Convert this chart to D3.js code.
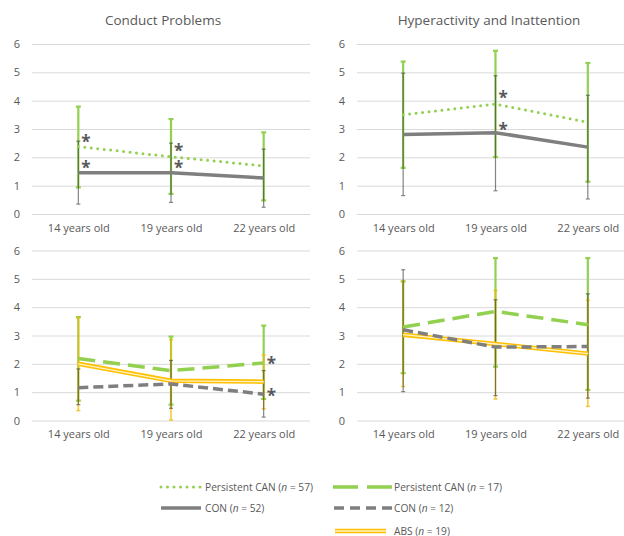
<!DOCTYPE html>
<html>
<head>
<meta charset="utf-8">
<script src="https://cdn.jsdelivr.net/npm/d3@7"></script>
<style>
  body { margin: 0; background: #fff; }
  text { font-family: "Open Sans", sans-serif; fill: #595959; }
</style>
</head>
<body>
<svg id="chart" width="624" height="536"></svg>
<script>
// categories and ticks
const ages = ["14 years old", "19 years old", "22 years old"];
const yTicks = [0, 1, 2, 3, 4, 5, 6];

// Conduct problems, persistent CAN (n=57) vs CON (n=52)
const cpCan57 = [2.38, 2.02, 1.70];
const cpCan57Hi = [3.79, 3.35, 2.88];
const cpCan57Lo = [0.94, 0.71, 0.48];
const cpCon52 = [1.46, 1.46, 1.27];
const cpCon52Hi = [2.57, 2.50, 2.29];
const cpCon52Lo = [0.35, 0.41, 0.24];

// Hyperactivity, persistent CAN (n=57) vs CON (n=52)
const haCan57 = [3.50, 3.88, 3.24];
const haCan57Hi = [5.38, 5.76, 5.33];
const haCan57Lo = [1.63, 2.01, 1.14];
const haCon52 = [2.81, 2.87, 2.36];
const haCon52Hi = [4.97, 4.88, 4.19];
const haCon52Lo = [0.65, 0.82, 0.53];

// Conduct problems, CAN (n=17), CON (n=12), ABS (n=19)
const cpCan17 = [2.19, 1.76, 2.03];
const cpCan17Hi = [3.65, 2.96, 3.35];
const cpCan17Lo = [0.70, 0.56, 0.76];
const cpCon12 = [1.16, 1.29, 0.93];
const cpCon12Hi = [1.82, 2.12, 1.76];
const cpCon12Lo = [0.56, 0.43, 0.12];
const cpAbs19 = [2.00, 1.40, 1.37];
const cpAbs19Hi = [3.63, 2.85, 2.32];
const cpAbs19Lo = [0.35, 0.02, 0.41];

// Hyperactivity, CAN (n=17), CON (n=12), ABS (n=19)
const haCan17 = [3.30, 3.85, 3.38];
const haCan17Hi = [4.91, 5.73, 5.73];
const haCan17Lo = [1.67, 1.90, 1.08];
const haCon12 = [3.20, 2.59, 2.61];
const haCon12Hi = [5.32, 4.26, 4.47];
const haCon12Lo = [1.02, 0.88, 0.79];
const haAbs19 = [3.03, 2.70, 2.36];
const haAbs19Hi = [4.91, 4.59, 4.24];
const haAbs19Lo = [1.20, 0.76, 0.50];

// significance asterisks: panel, category index, value
const sigPanel = [0, 0, 0, 0, 1, 1, 2, 2];
const sigIndex = [0, 0, 1, 1, 1, 1, 2, 2];
const sigValue = [2.60, 1.69, 2.30, 1.69, 4.16, 3.05, 2.06, 0.94];

const legendLabels = [
  ["Persistent CAN (", "n", " = 57)"],
  ["CON (", "n", " = 52)"],
  ["Persistent CAN (", "n", " = 17)"],
  ["CON (", "n", " = 12)"],
  ["ABS (", "n", " = 19)"]
];

const GREEN = "#92d050", GRAY = "#7f7f7f", YELLOW = "#ffc000";

const panels = [
  { title: "Conduct Problems", x0: 32, x1: 310, yb: 214, yt: 44, tx: 163,
    series: [
      { kind: "can57", m: cpCan57, hi: cpCan57Hi, lo: cpCan57Lo },
      { kind: "con52", m: cpCon52, hi: cpCon52Hi, lo: cpCon52Lo }
    ] },
  { title: "Hyperactivity and Inattention", x0: 357, x1: 634, yb: 214, yt: 44, tx: 489,
    series: [
      { kind: "can57", m: haCan57, hi: haCan57Hi, lo: haCan57Lo },
      { kind: "con52", m: haCon52, hi: haCon52Hi, lo: haCon52Lo }
    ] },
  { title: null, x0: 32, x1: 310, yb: 420.5, yt: 250.5,
    series: [
      { kind: "can17", m: cpCan17, hi: cpCan17Hi, lo: cpCan17Lo },
      { kind: "abs19", m: cpAbs19, hi: cpAbs19Hi, lo: cpAbs19Lo },
      { kind: "con12", m: cpCon12, hi: cpCon12Hi, lo: cpCon12Lo }
    ] },
  { title: null, x0: 357, x1: 634, yb: 420.5, yt: 250.5,
    series: [
      { kind: "can17", m: haCan17, hi: haCan17Hi, lo: haCan17Lo },
      { kind: "abs19", m: haAbs19, hi: haAbs19Hi, lo: haAbs19Lo },
      { kind: "con12", m: haCon12, hi: haCon12Hi, lo: haCon12Lo }
    ] }
];

const svg = d3.select("#chart");

// line styles
function styleLine(sel, kind, legend) {
  sel.attr("fill", "none").attr("stroke-linejoin", "round");
  if (kind === "can57") {
    sel.attr("stroke", GREEN).attr("stroke-width", 3)
      .attr("stroke-linecap", "round").attr("stroke-dasharray", "0 6.5");
  } else if (kind === "con52") {
    sel.attr("stroke", GRAY).attr("stroke-width", 3.5);
  } else if (kind === "can17") {
    sel.attr("stroke", GREEN).attr("stroke-width", 3.5)
      .attr("stroke-dasharray", legend ? "25 9" : "17 8");
  } else if (kind === "con12") {
    sel.attr("stroke", GRAY).attr("stroke-width", 3.5)
      .attr("stroke-dasharray", legend ? "10 6" : "10 5");
  }
}

function drawLine(g, kind, d, legend) {
  if (kind === "abs19") {
    g.append("path").attr("d", d).attr("fill", "none")
      .attr("stroke", YELLOW).attr("stroke-width", 4.5);
    g.append("path").attr("d", d).attr("fill", "none")
      .attr("stroke", "#fff3c8").attr("stroke-width", 1.4);
  } else {
    g.append("path").attr("d", d).call(styleLine, kind, legend);
  }
}

const barStyle = {
  can57: { c: GREEN, w: 2.2, op: 1, cap: 5 },
  can17: { c: GREEN, w: 2.2, op: 1, cap: 5 },
  abs19: { c: "#f2b800", w: 1.6, op: 0.75, cap: 4 },
  con52: { c: "#333333", w: 1.2, op: 0.6, cap: 4 },
  con12: { c: "#333333", w: 1.2, op: 0.6, cap: 4 }
};

panels.forEach((p, pi) => {
  const x = d3.scalePoint().domain(ages).range([p.x0, p.x1]).padding(0.5);
  const y = d3.scaleLinear().domain([0, 6]).range([p.yb, p.yt]);
  const g = svg.append("g");

  // y axis with gridlines
  const yAxis = g.append("g").attr("transform", `translate(${p.x0},0)`)
    .call(d3.axisLeft(y).tickValues(yTicks).tickFormat(d3.format("d"))
      .tickSize(-(Math.min(p.x1, 624) - p.x0)).tickPadding(12));
  yAxis.select(".domain").remove();
  yAxis.selectAll("line").attr("stroke", "#d9d9d9");
  yAxis.selectAll("text").attr("font-size", 11).attr("fill", "#595959");

  // x axis labels
  const xAxis = g.append("g").attr("transform", `translate(0,${p.yb})`)
    .call(d3.axisBottom(x).tickSize(0).tickPadding(10));
  xAxis.select(".domain").remove();
  xAxis.selectAll("text").attr("font-size", 11).attr("fill", "#595959");

  if (p.title) {
    g.append("text").attr("x", p.tx).attr("y", 25).attr("text-anchor", "middle")
      .attr("font-size", 13.5).text(p.title);
  }

  // error bars
  p.series.forEach(s => {
    const b = barStyle[s.kind];
    const eb = g.append("g").attr("stroke", b.c).attr("stroke-width", b.w).attr("opacity", b.op);
    ages.forEach((a, i) => {
      const cx = x(a);
      eb.append("line").attr("x1", cx).attr("x2", cx).attr("y1", y(s.lo[i])).attr("y2", y(s.hi[i]));
      [s.lo[i], s.hi[i]].forEach(v => {
        eb.append("line").attr("x1", cx - b.cap / 2).attr("x2", cx + b.cap / 2)
          .attr("y1", y(v)).attr("y2", y(v));
      });
    });
  });

  // mean lines
  const line = d3.line().x((d, i) => x(ages[i])).y(d => y(d));
  p.series.forEach(s => drawLine(g, s.kind, line(s.m), false));

  // asterisks
  sigPanel.forEach((sp, k) => {
    if (sp !== pi) return;
    g.append("text").attr("x", x(ages[sigIndex[k]]) + 3).attr("y", y(sigValue[k]) + 8)
      .attr("font-size", 17).attr("font-weight", "bold").attr("fill", "#595959").text("*");
  });
});

// legend
const legendKinds = ["can57", "con52", "can17", "con12", "abs19"];
const legendPos = [
  { x1: 161, x2: 201, tx: 205, y: 487 },
  { x1: 161, x2: 201, tx: 205, y: 508 },
  { x1: 333, x2: 392, tx: 394, y: 487 },
  { x1: 334, x2: 392, tx: 394, y: 508 },
  { x1: 335, x2: 386, tx: 394, y: 531 }
];
const lg = svg.append("g");
legendKinds.forEach((k, i) => {
  const lp = legendPos[i];
  drawLine(lg, k, d3.line()([[lp.x1, lp.y], [lp.x2, lp.y]]), true);
  const t = lg.append("text").attr("x", lp.tx).attr("y", lp.y + 3.5).attr("font-size", 10.2);
  const parts = legendLabels[i];
  t.append("tspan").text(parts[0]);
  t.append("tspan").attr("font-style", "italic").text(parts[1]);
  t.append("tspan").text(parts[2]);
});
</script>
</body>
</html>
